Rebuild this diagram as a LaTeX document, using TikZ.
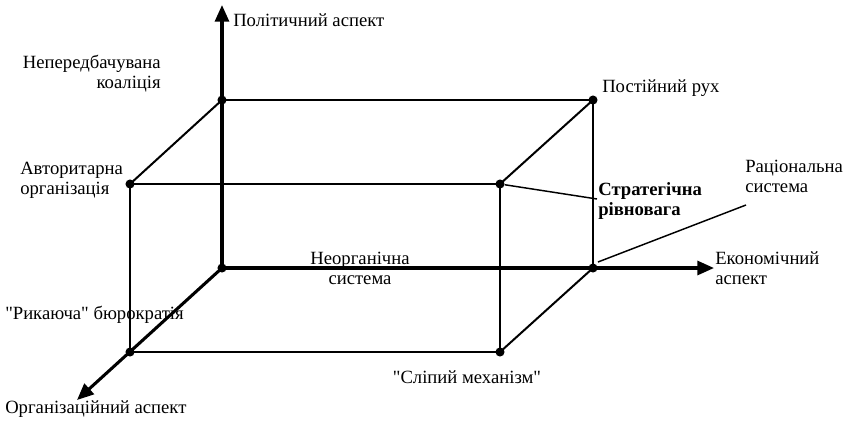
\documentclass[tikz,border=0pt]{standalone}
\usepackage{fontspec}
% plain family without TeX ligature mapping, so " stays a straight quote
\newfontfamily\labelfont{Liberation Serif}
\usetikzlibrary{arrows.meta}
\begin{document}
\begin{tikzpicture}[x=0.75pt,y=-0.75pt,
  axis/.style={line width=2.3pt,-{Triangle[length=12.5pt,width=10.5pt]}},
  edge/.style={line width=1.5pt},
  leader/.style={line width=1.1pt},
  vertex/.style={circle,fill=black,inner sep=0pt,minimum size=6.8pt},
  lbl/.style={inner sep=0pt,font=\labelfont\fontsize{14}{15}\selectfont}]
\useasboundingbox (0,0) rectangle (843,422);
% corners of the box: back face (b..) and front face (f..)
\coordinate (O)   at (222,268);
\coordinate (btl) at (222,100);
\coordinate (btr) at (593,100);
\coordinate (bbr) at (593,268);
\coordinate (ftl) at (130,184);
\coordinate (ftr) at (500,184);
\coordinate (fbl) at (130,352);
\coordinate (fbr) at (500,352);
% axis ends
\coordinate (poltip) at (222,5);
\coordinate (ecotip) at (714,268);
\coordinate (orgtip) at (77,400);
% box edges
\draw[edge] (btl) -- (btr) -- (bbr);
\draw[edge] (ftl) -- (ftr) -- (fbr) -- (fbl) -- (ftl);
\draw[edge] (btl) -- (ftl);
\draw[edge] (btr) -- (ftr);
\draw[edge] (bbr) -- (fbr);
% axes
\draw[axis] (O) -- (poltip);
\draw[axis] (O) -- (ecotip);
\draw[axis] (O) -- (orgtip);
% vertices
\foreach \p in {O,btl,btr,bbr,ftl,ftr,fbl,fbr}
  \node[vertex] (v\p) at (\p) {};
% labels
\node[lbl,anchor=west] (pol) at (233,20) {Політичний аспект};
\node[lbl,anchor=east,align=right] (coal) at (161,74) {Непередбачувана\\коаліція};
\node[lbl,anchor=west,align=left] (auth) at (20,180) {Авторитарна\\організація};
\node[lbl,anchor=west] (ryk) at (5,315) {"Рикаюча" бюрократія};
\node[lbl,anchor=west] (orgax) at (5,409) {Організаційний аспект};
\node[lbl,anchor=west] (post) at (602,88) {Постійний рух};
\node[lbl,anchor=west,align=left,font=\labelfont\fontsize{14}{15}\selectfont\bfseries] (strat) at (598,201) {Стратегічна\\рівновага};
\node[lbl,anchor=west,align=left] (rac) at (745,176) {Раціональна\\система};
\node[lbl,anchor=west,align=left] (econ) at (715,268) {Економічний\\аспект};
\node[lbl,align=center] (neorg) at (360,268) {Неорганічна\\система};
\node[lbl] (slip) at (467,377) {"Сліпий механізм"};
% leader lines
\coordinate (stratend) at (597,199);
\coordinate (racstart) at (598,262);
\coordinate (racend) at (746,205);
\draw[leader] (vftr) -- (stratend);
\draw[leader] (racstart) -- (racend);
\end{tikzpicture}
\end{document}
